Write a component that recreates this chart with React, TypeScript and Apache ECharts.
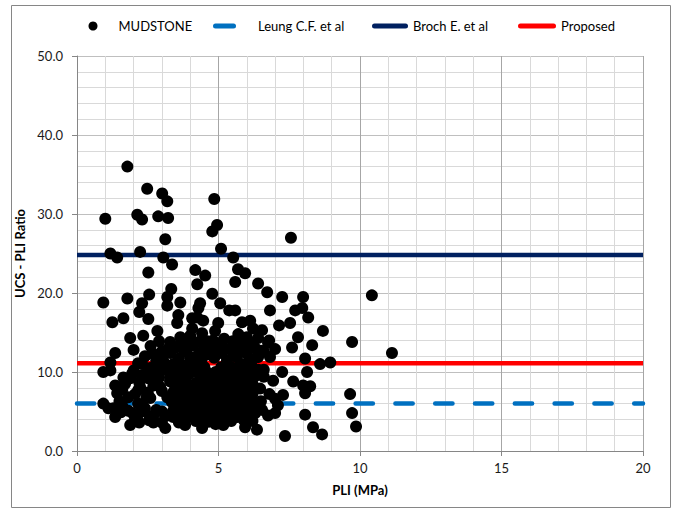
import React, { useEffect, useRef } from "react";
import * as echarts from "echarts";

// Reference lines (UCS/PLI ratio) drawn across the PLI range
const lineX = [0, 20];
const leungRatio = 6.0;
const brochRatio = 24.8;
const proposedRatio = 11.1;

// MUDSTONE points: [PLI (MPa), UCS-PLI ratio]
const mudstoneSparse: number[][] = [
  [1.78, 36.0], [1.0, 29.4], [2.48, 33.2], [3.01, 32.6], [3.19, 31.6], [4.85, 31.9], [2.13, 29.9], [2.3, 29.3], [2.87, 29.7], [3.22, 29.5],
  [3.12, 26.8], [4.78, 27.8], [4.95, 28.6], [5.09, 25.6], [1.18, 25.0], [1.42, 24.5], [2.23, 25.2], [3.05, 24.5], [3.36, 23.6], [2.52, 22.6],
  [5.52, 24.5], [5.69, 23.0], [5.94, 22.5], [4.18, 22.9], [4.53, 22.2], [4.25, 21.1], [5.59, 21.4], [6.4, 21.2], [6.72, 20.1], [4.78, 19.9],
  [7.56, 27.0], [10.42, 19.7], [7.25, 19.5], [7.99, 19.5], [3.33, 20.5], [2.55, 19.8], [3.19, 19.5], [0.93, 18.8], [1.78, 19.3], [3.65, 18.8],
  [2.3, 18.7], [2.2, 17.6], [3.19, 18.4], [4.35, 18.7], [4.29, 18.1], [5.06, 18.7], [5.38, 17.8], [5.59, 17.8], [6.82, 17.8], [7.71, 17.8],
  [7.96, 18.1], [8.17, 16.9], [7.14, 15.9], [7.53, 16.2], [8.69, 15.2], [7.81, 14.4], [9.72, 13.8], [6.79, 14.0], [7.6, 13.1], [8.31, 13.4],
  [8.06, 11.7], [8.59, 11.0], [8.95, 11.2], [8.13, 10.0], [7.25, 10.0], [6.93, 8.9], [7.64, 8.8], [7.99, 8.3], [8.24, 8.2], [8.06, 7.3],
  [7.28, 7.1], [9.65, 7.2], [9.72, 4.8], [9.86, 3.1], [8.06, 4.6], [8.34, 3.0], [8.66, 2.1], [7.35, 1.9], [7.1, 5.8], [7.0, 4.8],
  [11.13, 12.4], [3.58, 17.2], [4.07, 16.8], [4.46, 16.5], [4.99, 16.2], [5.83, 16.3], [6.12, 16.5], [6.22, 15.5], [6.54, 15.3], [6.4, 14.3],
  [5.87, 14.0], [5.59, 13.6], [4.81, 14.0], [4.42, 14.9], [4.0, 14.6], [3.65, 14.4], [3.54, 16.2], [1.25, 16.3], [1.64, 16.8], [2.52, 16.7],
  [1.88, 14.3], [2.34, 14.6], [2.84, 15.2], [3.29, 13.8], [4.07, 15.5], [4.88, 15.2], [4.25, 16.9], [6.75, 13.7], [6.36, 11.9], [6.82, 11.9],
  [6.12, 8.1], [6.47, 7.9], [6.54, 5.2], [6.75, 4.5], [5.94, 3.0], [6.36, 2.7], [3.82, 3.3], [4.42, 2.9], [5.17, 3.3], [3.4, 4.3],
  [4.81, 4.1], [5.66, 4.3], [1.35, 12.4], [1.18, 11.2], [0.93, 10.0], [1.18, 10.2], [1.35, 8.3], [1.42, 7.3], [0.93, 6.0], [1.11, 5.4],
  [1.28, 5.4], [1.35, 4.3], [1.88, 9.2], [1.64, 9.3], [1.88, 3.3], [1.96, 4.8], [2.52, 9.2], [2.59, 6.7], [2.59, 4.3], [3.12, 2.9],
  [3.19, 4.5], [2.16, 11.1], [2.16, 7.7], [2.94, 8.1], [2.8, 5.2], [1.81, 6.8], [1.81, 5.1], [2.13, 4.5], [2.7, 4.5], [2.23, 8.1],
  [2.59, 10.5], [3.19, 10.6], [3.29, 8.9], [3.19, 6.8], [3.4, 5.1], [2.16, 6.0],
];

const mudstoneCluster: number[][] = [
  [3.9, 14.1], [4.6, 13.9], [5.2, 14.2], [5.7, 14.8], [6.1, 13.8],
  [3.5, 13.1], [4.1, 13.4], [4.5, 13.0], [4.9, 13.3], [5.4, 12.9], [5.8, 13.2], [6.3, 13.0],
  [3.3, 12.4], [3.8, 12.6], [4.3, 12.3], [4.7, 12.7], [5.1, 12.4], [5.5, 12.6], [6.0, 12.3], [6.5, 12.7],
  [3.6, 11.7], [4.0, 11.9], [4.4, 11.6], [4.85, 11.8], [5.3, 11.5], [5.65, 11.9], [6.1, 11.6],
  [3.4, 11.0], [3.9, 10.9], [4.2, 11.2], [4.5, 10.6], [5.4, 10.7], [5.8, 11.0], [6.2, 10.6],
  [3.2, 10.2], [3.7, 10.4], [4.1, 10.1], [4.5, 10.4], [4.9, 10.0], [5.25, 10.3], [5.6, 9.9], [5.95, 10.2], [6.4, 10.3],
  [3.5, 9.5], [3.95, 9.7], [4.35, 9.4], [4.75, 9.6], [5.15, 9.3], [5.5, 9.7], [5.85, 9.4], [6.3, 9.5],
  [3.3, 8.8], [3.75, 8.9], [4.2, 8.6], [4.6, 8.9], [5.0, 8.7], [5.35, 8.9], [5.7, 8.6], [6.05, 8.9],
  [3.6, 8.1], [4.0, 8.0], [4.45, 8.2], [4.85, 7.9], [5.2, 8.1], [5.55, 7.9], [5.9, 8.2],
  [3.4, 7.4], [3.85, 7.3], [4.3, 7.5], [4.7, 7.2], [5.05, 7.4], [5.45, 7.3], [5.8, 7.5], [6.2, 7.2],
  [3.65, 6.6], [4.1, 6.7], [4.55, 6.5], [4.95, 6.7], [5.3, 6.5], [5.65, 6.8], [6.0, 6.6],
  [3.5, 5.9], [3.9, 6.0], [4.35, 5.8], [4.8, 6.1], [5.2, 5.8], [5.5, 6.0], [5.85, 5.9], [6.3, 6.1],
  [3.7, 5.3], [4.15, 5.2], [4.6, 5.4], [5.0, 5.1], [5.4, 5.3], [5.75, 5.2], [6.1, 5.4],
  [3.6, 4.6], [4.0, 4.5], [4.45, 4.7], [4.9, 4.4], [5.3, 4.6], [5.65, 4.8], [6.0, 4.5],
  [4.2, 3.8], [4.65, 3.7], [5.45, 3.8], [5.9, 3.9],
  [3.7, 13.7], [4.3, 13.8], [5.0, 13.6], [5.5, 13.9], [6.0, 14.4],
  [3.2, 12.9], [3.9, 13.0], [4.6, 12.2], [5.25, 12.9], [5.95, 12.8], [6.4, 11.9],
  [3.5, 10.7], [4.3, 10.5], [5.1, 10.6], [5.6, 10.5], [6.0, 10.9],
  [3.3, 9.6], [3.8, 9.9], [4.6, 9.9], [5.4, 9.2], [6.1, 9.8],
  [3.45, 8.4], [3.9, 8.5], [4.4, 8.7], [4.85, 8.5], [5.3, 8.4], [5.75, 8.1], [6.2, 8.5],
  [3.7, 7.7], [4.2, 7.9], [4.6, 7.7], [5.35, 7.7], [6.0, 7.8],
  [3.35, 6.2], [3.8, 6.4], [4.25, 6.3], [4.7, 6.4], [5.1, 6.2], [5.45, 6.5], [5.9, 6.3],
  [3.45, 4.8], [3.9, 4.9], [4.3, 5.0], [4.75, 4.9], [5.15, 5.0], [5.55, 4.9], [6.3, 4.8],
  [3.8, 4.0], [4.35, 4.2], [5.0, 3.9], [5.3, 4.1], [6.2, 3.8], [3.6, 3.6], [4.9, 3.4],
  [2.4, 12.0], [2.8, 11.5], [3.0, 12.6], [2.6, 13.3], [2.0, 12.8], [2.9, 13.9], [2.5, 10.0], [2.9, 9.3], [2.3, 9.6], [2.7, 8.3],
  [3.0, 7.6], [2.5, 7.4], [2.4, 5.4], [3.0, 5.0], [2.7, 3.6], [2.2, 3.6], [1.6, 7.8], [1.7, 8.5], [1.5, 6.3],
  [2.0, 10.2], [2.3, 11.0], [1.95, 9.8], [2.2, 8.7], [2.75, 9.6], [2.05, 7.2], [2.45, 6.7], [1.6, 5.7], [2.3, 5.0],
  [2.05, 4.0], [2.55, 3.9], [3.0, 3.6], [1.55, 4.9], [2.9, 10.5], [3.05, 11.4], [2.7, 12.3],
  [6.6, 10.3], [6.6, 9.4], [6.8, 7.2], [6.5, 6.3], [7.0, 6.6], [6.6, 12.6], [7.0, 12.9],
];

const FONT = "Lato, 'Open Sans', sans-serif";

export default function App() {
  const ref = useRef<HTMLDivElement>(null);
  useEffect(() => {
    document.body.style.margin = "0";
    const chart = echarts.init(ref.current!, null, { renderer: "svg" });
    const textStyle = { fontFamily: FONT, fontSize: 13, color: "#000" };
    chart.setOption({
      animation: false,
      backgroundColor: "#fff",
      textStyle: { fontFamily: FONT },
      grid: { left: 77, right: 36, top: 56, bottom: 65 },
      graphic: [
        {
          type: "rect",
          silent: true,
          z: -10,
          shape: { x: 11.5, y: 5.5, width: 659, height: 502 },
          style: { fill: "none", stroke: "#868686", lineWidth: 1 },
        },
      ],
      legend: [
        {
          left: 88.5, top: 19.5, padding: 0, itemWidth: 9, itemHeight: 9,
          data: [{ name: "MUDSTONE", icon: "circle", itemStyle: { color: "#000" } }],
          formatter: "{gap| }{name}",
          textStyle: { ...textStyle, rich: { gap: { width: 16 } } },
        },
        {
          left: 213, top: 19.5, padding: 0, itemWidth: 23, itemHeight: 5,
          data: [{ name: "Leung C.F. et al", icon: "path://M2.5,0H20.5A2.5,2.5,0,0,1,20.5,5H2.5A2.5,2.5,0,0,1,2.5,0Z", itemStyle: { color: "#0070c0" } }],
          formatter: "{gap| }{name}",
          textStyle: { ...textStyle, rich: { gap: { width: 17 } } },
        },
        {
          left: 372, top: 19.5, padding: 0, itemWidth: 36, itemHeight: 5,
          data: [{ name: "Broch E. et al", icon: "path://M2.5,0H33.5A2.5,2.5,0,0,1,33.5,5H2.5A2.5,2.5,0,0,1,2.5,0Z", itemStyle: { color: "#002060" } }],
          textStyle,
        },
        {
          left: 518, top: 19.5, padding: 0, itemWidth: 38, itemHeight: 5,
          data: [{ name: "Proposed", icon: "path://M2.5,0H35.5A2.5,2.5,0,0,1,35.5,5H2.5A2.5,2.5,0,0,1,2.5,0Z", itemStyle: { color: "#ff0000" } }],
          textStyle,
        },
      ],
      xAxis: {
        type: "value", min: 0, max: 20, interval: 5,
        axisLine: { show: true, lineStyle: { color: "#868686", width: 1 } },
        axisTick: { show: true, length: 5, lineStyle: { color: "#868686" } },
        axisLabel: { margin: 10, fontSize: 13, color: "#1a1a1a", fontFamily: FONT },
        splitLine: { show: true, lineStyle: { color: "#a6a6a6", width: 1 } },
        minorTick: { show: false, splitNumber: 5 },
        minorSplitLine: { show: true, lineStyle: { color: "#d9d9d9", width: 1 } },
        name: "PLI (MPa)", nameLocation: "middle", nameGap: 32,
        nameTextStyle: { fontWeight: "bold", fontSize: 13, color: "#000", fontFamily: FONT },
      },
      yAxis: {
        type: "value", min: 0, max: 50, interval: 10,
        axisLine: { show: true, lineStyle: { color: "#868686", width: 1 } },
        axisTick: { show: true, length: 5, lineStyle: { color: "#868686" } },
        axisLabel: { margin: 14, fontSize: 13, color: "#1a1a1a", fontFamily: FONT, formatter: (v: number) => v.toFixed(1) },
        splitLine: { show: true, lineStyle: { color: "#bfbfbf", width: 1 } },
        minorTick: { show: false, splitNumber: 5 },
        minorSplitLine: { show: true, lineStyle: { color: "#d9d9d9", width: 1 } },
        name: "UCS - PLI Ratio", nameLocation: "middle", nameGap: 37, nameRotate: 90,
        nameTextStyle: { fontWeight: "bold", fontSize: 13, color: "#000", fontFamily: FONT },
      },
      series: [
        {
          name: "MUDSTONE", type: "scatter", symbol: "circle", symbolSize: 12,
          data: [...mudstoneSparse, ...mudstoneCluster],
          itemStyle: { color: "#000", opacity: 1 }, z: 5, silent: true,
        },
        {
          name: "Leung C.F. et al", type: "line", symbol: "none", silent: true, z: 2,
          data: lineX.map((x) => [x, leungRatio]),
          itemStyle: { color: "#0070c0" },
          lineStyle: { color: "#0070c0", width: 4.5, type: [17.3, 22.5], cap: "round" },
        },
        {
          name: "Broch E. et al", type: "line", symbol: "none", silent: true, z: 2,
          data: lineX.map((x) => [x, brochRatio]),
          itemStyle: { color: "#002060" },
          lineStyle: { color: "#002060", width: 4.5 },
        },
        {
          name: "Proposed", type: "line", symbol: "none", silent: true, z: 2,
          data: lineX.map((x) => [x, proposedRatio]),
          itemStyle: { color: "#ff0000" },
          lineStyle: { color: "#ff0000", width: 4.5 },
        },
      ],
    });
    return () => chart.dispose();
  }, []);
  return (
    <div
      ref={ref}
      style={{ position: "absolute", left: 0, top: 0, width: 679, height: 516, background: "#fff" }}
    />
  );
}
